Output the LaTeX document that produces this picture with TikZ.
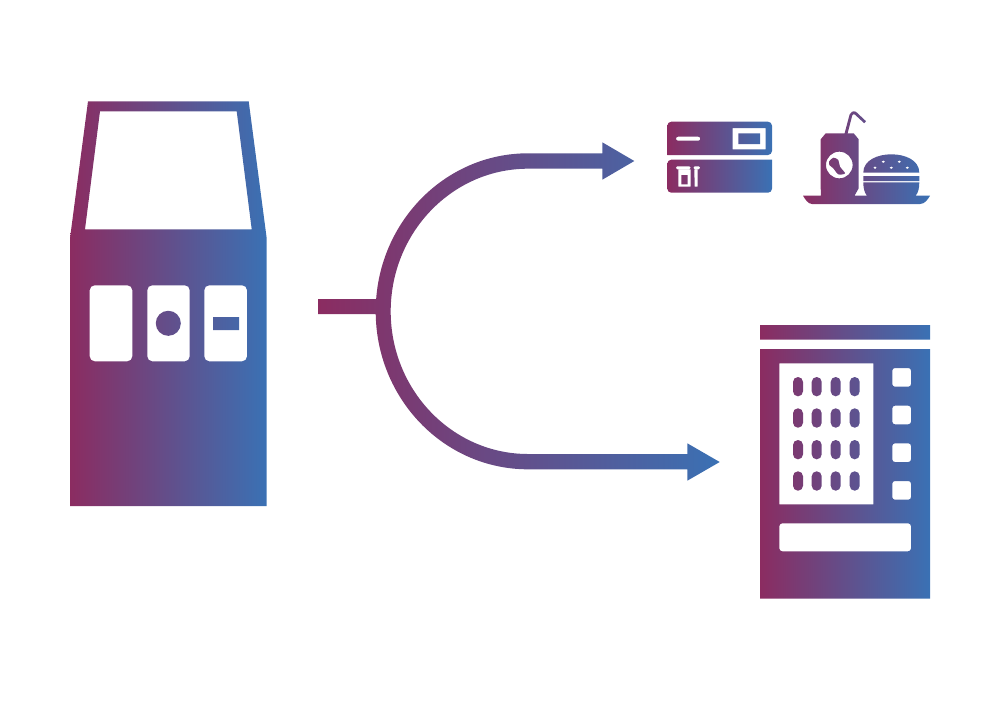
\documentclass[tikz,border=0pt]{standalone}
\definecolor{gradL}{HTML}{8B2C61}
\definecolor{gradR}{HTML}{3A71B4}
\tikzset{
  gradfill/.style={left color=gradL,right color=gradR,shading angle=90,draw=none,even odd rule},
  connfill/.style={left color=gradL,right color=gradR,shading angle=90,draw=none}
}
% rounded rectangle in pixel coordinates: x1 y1 x2 y2 radius(pt)
\def\rr#1#2#3#4#5{[rounded corners=#5pt] (#1,#2) -- (#3,#2) -- (#3,#4) -- (#1,#4) -- cycle [sharp corners] }
\begin{document}
\begin{tikzpicture}[x=0.75pt,y=-0.75pt]
\useasboundingbox (0,0) rectangle (1000,701);

% ---- kiosk
\path[gradfill]
  (88,101.3) -- (248.7,101.3) -- (266.7,238.3) -- (266.7,506) -- (70,506) -- (70,238.3) -- cycle
  (100,111.3) -- (236.7,111.3) -- (251.7,229.3) -- (85,229.3) -- cycle
  \rr{89.7}{285.3}{132.3}{361.3}{3.6}
  \rr{147.3}{285.3}{189.7}{361.3}{3.6}
  \rr{204.3}{285.3}{247}{361.3}{3.6}
  (168.3,323.3) circle[radius=9.4pt]
  (213,317) rectangle (239,330);

% ---- branching connector
\coordinate (stubL) at (318,299);
\coordinate (stubR) at (382,314);
\coordinate (tipA) at (634.3,161);
\coordinate (tipB) at (719.7,462);
\path[connfill]
  (528,153.3) -- (602.3,153.3) -- (602.3,142.3) -- (tipA) -- (602.3,179.7) -- (602.3,168.7) -- (528,168.7)
  .. controls (452.2,168.7) and (390.7,232.6) .. (390.7,311.4)
  .. controls (390.7,390.1) and (452.2,454) .. (528,454)
  -- (687.3,454) -- (687.3,443.3) -- (tipB) -- (687.3,480.7) -- (687.3,469.3) -- (528,469.3)
  .. controls (443.9,469.3) and (375.7,398.6) .. (375.7,311.3)
  .. controls (375.7,224) and (443.9,153.3) .. (528,153.3) -- cycle
  (stubL) -- (stubL -| stubR) -- (stubR) -- (stubR -| stubL) -- cycle;

% ---- card reader
\path[gradfill]
  [rounded corners=3pt] (667.3,155) -- (667.3,121.7) -- (772,121.7) -- (772,155) [sharp corners] -- cycle
  [rounded corners=3pt] (772,159.7) -- (772,192.7) -- (667.3,192.7) -- (667.3,159.7) [sharp corners] -- cycle
  \rr{676}{136.7}{700.3}{140.7}{1.5}
  (732.7,128) rectangle (765.7,149.3)
  (738.3,133.3) rectangle (760,144)
  \rr{676}{166.3}{690.5}{169.3}{0.8}
  (678.3,169.3) -- (690.5,169.3) -- (690.5,186.7) -- (678.3,186.7) -- cycle
  (681.3,175) rectangle (687.7,184.3)
  \rr{693.5}{166.3}{700}{169.3}{0.8}
  (694.3,169.3) -- (697.7,169.3) -- (697.5,186.7) -- (694.7,186.7) -- cycle;

% ---- can, burger and tray
\path[gradfill]
  (803,195.7) -- (821,195.7) -- (820.7,188.3) -- (820.7,139.3) -- (825.7,133.3)
  -- (844.6,133.3) -- (849.6,114.5) .. controls (850.2,112) and (853.2,110.5) .. (856,111.8)
  -- (866,121.2) -- (864.2,123.2) -- (855,114.7) .. controls (853.8,113.7) and (852.6,114.2) .. (852.3,115.3)
  -- (847.6,133.3) -- (853.7,133.3) -- (858.7,139.3) -- (858.7,188.3) -- (854.5,195.7)
  -- (867,195.7) .. controls (864.5,193) and (863.3,188) .. (863.3,182.3)
  -- (919.3,182.3) .. controls (919.3,188) and (918.3,193) .. (915.5,195.7)
  -- (930,195.7) .. controls (928,199) and (925,204) .. (920,204)
  -- (812,204) .. controls (808,204) and (805,199) .. (803,195.7) -- cycle
  (839.3,165) circle[radius=10pt]
  plot[smooth cycle] coordinates {(829,161.7) (833.3,157.7) (838.3,160) (840,166.7) (845,173.3) (838.3,174.3) (833.3,168.3) (829.3,165)}
  (863.3,172.7) .. controls (863.3,160) and (878,154.3) .. (891.3,154.3)
  .. controls (905,154.3) and (919.3,160) .. (919.3,172.7) -- cycle
  (875,167.7) ellipse[x radius=1.4pt,y radius=1pt]
  (883.3,161.7) ellipse[x radius=1.4pt,y radius=1pt]
  (891.3,167.7) ellipse[x radius=1.4pt,y radius=1pt]
  (899.3,161.7) ellipse[x radius=1.4pt,y radius=1pt]
  (907.3,167.7) ellipse[x radius=1.4pt,y radius=1pt]
  (863.3,176) rectangle (919.3,181);

% ---- vending machine
\path[gradfill]
  (760,325) rectangle (930,339.7)
  (760,349) rectangle (930,598.7)
  (779.3,363.3) rectangle (873.3,504.3)
  \rr{793}{377}{803}{396.3}{3.7}   \rr{811.7}{377}{821.7}{396.3}{3.7}   \rr{830.7}{377}{840.7}{396.3}{3.7}   \rr{849.7}{377}{859.7}{396.3}{3.7}
  \rr{793}{408.3}{803}{427.7}{3.7} \rr{811.7}{408.3}{821.7}{427.7}{3.7} \rr{830.7}{408.3}{840.7}{427.7}{3.7} \rr{849.7}{408.3}{859.7}{427.7}{3.7}
  \rr{793}{440}{803}{459.3}{3.7}   \rr{811.7}{440}{821.7}{459.3}{3.7}   \rr{830.7}{440}{840.7}{459.3}{3.7}   \rr{849.7}{440}{859.7}{459.3}{3.7}
  \rr{793}{471.3}{803}{490.7}{3.7} \rr{811.7}{471.3}{821.7}{490.7}{3.7} \rr{830.7}{471.3}{840.7}{490.7}{3.7} \rr{849.7}{471.3}{859.7}{490.7}{3.7}
  \rr{892.3}{368}{911}{386.7}{2}
  \rr{892.3}{405.7}{911}{424.3}{2}
  \rr{892.3}{443.3}{911}{462}{2}
  \rr{892.3}{481}{911}{499.7}{2}
  \rr{779.3}{523.3}{911}{551.3}{2.2};
\end{tikzpicture}
\end{document}
